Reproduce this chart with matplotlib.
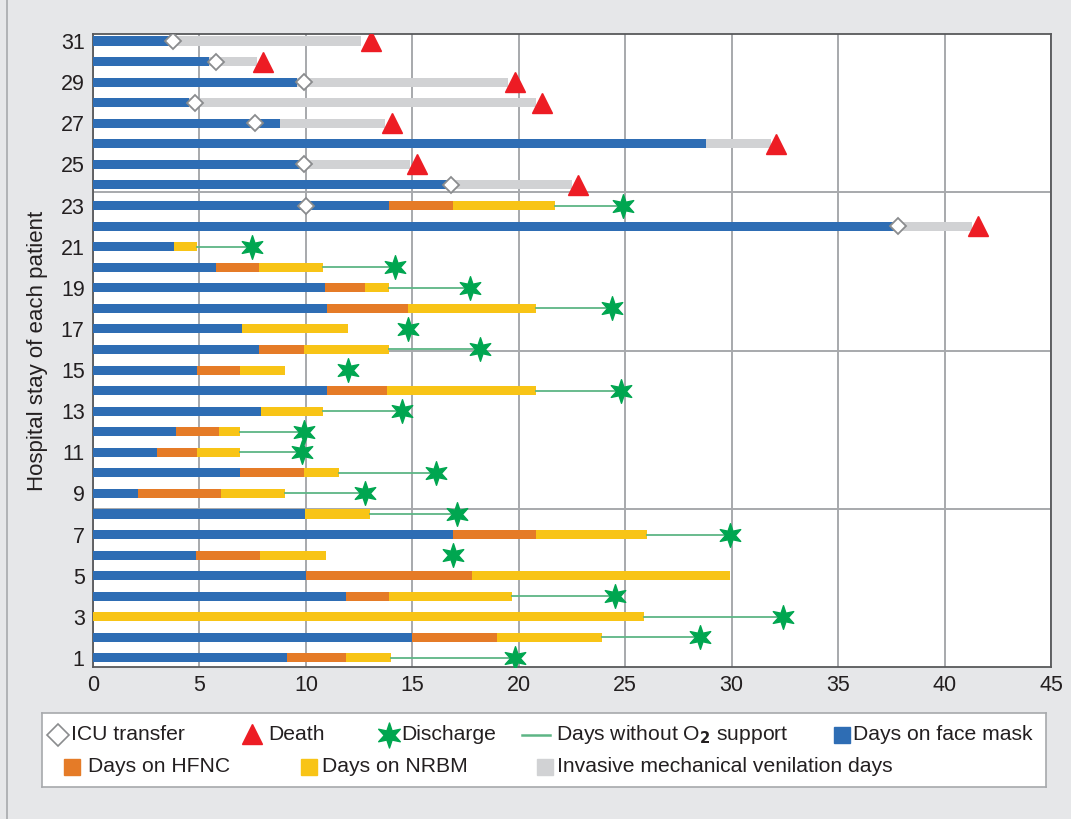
import matplotlib
matplotlib.use("Agg")
import matplotlib.pyplot as plt
from matplotlib.path import Path
import numpy as np

plt.rcParams['font.family'] = ['Liberation Sans', 'DejaVu Sans']

# patient 1..31, end day of each phase
patients = np.arange(1, 32)
mask_end = [9.1, 15.0, 0.0, 11.9, 10.0, 4.85, 16.9, 9.95, 2.1, 6.9,
            3.0, 3.9, 7.9, 11.0, 4.9, 7.8, 7.0, 11.0, 10.9, 5.8,
            3.8, 37.7, 13.9, 16.7, 9.75, 28.8, 8.8, 4.5, 9.6, 5.45, 3.55]
hfnc_end = [11.9, 19.0, 0.0, 13.9, 17.8, 7.85, 20.8, 9.95, 6.0, 9.9,
            4.9, 5.9, 7.9, 13.8, 6.9, 9.9, 7.0, 14.8, 12.8, 7.8,
            3.8, 37.7, 16.9, 16.7, 9.75, 28.8, 8.8, 4.5, 9.6, 5.45, 3.55]
nrbm_end = [14.0, 23.9, 25.9, 19.7, 29.9, 10.95, 26.0, 13.0, 9.0, 11.55,
            6.9, 6.9, 10.8, 20.8, 9.0, 13.9, 12.0, 20.8, 13.9, 10.8,
            4.9, 37.7, 21.7, 16.7, 9.75, 28.8, 8.8, 4.5, 9.6, 5.45, 3.55]
imv_end = [14.0, 23.9, 25.9, 19.7, 29.9, 10.95, 26.0, 13.0, 9.0, 11.55,
           6.9, 6.9, 10.8, 20.8, 9.0, 13.9, 12.0, 20.8, 13.9, 10.8,
           4.9, 41.3, 21.7, 22.5, 14.9, 31.85, 13.7, 20.8, 19.5, 7.7, 12.6]

# ICU transfer day (patient, day)
icu_patient = [22, 23, 24, 25, 27, 28, 29, 30, 31]
icu_day = [37.8, 10.0, 16.8, 9.9, 7.6, 4.8, 9.9, 5.8, 3.75]

# deaths
death_patient = [22, 24, 25, 26, 27, 28, 29, 30, 31]
death_day = [41.56, 22.8, 15.2, 32.1, 14.06, 21.1, 19.8, 8.0, 13.07]

# discharges, and whether a "days without O2" line leads to them
disch_patient = [1, 2, 3, 4, 6, 7, 8, 9, 10, 11, 12, 13, 14, 15, 16, 17, 18, 19, 20, 21, 23]
disch_day = [19.8, 28.5, 32.4, 24.5, 16.9, 29.9, 17.1, 12.8, 16.1, 9.8, 9.9, 14.5,
             24.8, 12.0, 18.2, 14.8, 24.4, 17.7, 14.2, 7.45, 24.9]
disch_line = [1, 1, 1, 1, 0, 1, 1, 1, 1, 1, 1, 1, 1, 0, 1, 0, 1, 1, 1, 1, 1]

c_mask = '#2e6db4'
c_hfnc = '#e57b27'
c_nrbm = '#f8c416'
c_imv = '#d1d2d4'
c_death = '#ed1c24'
c_disch = '#00a650'
c_line = '#5db585'
c_text = '#231f20'
bg = '#e6e7e9'

star = Path.unit_regular_star(6, innerCircle=0.42)

fig = plt.figure(figsize=(10.71, 8.19), dpi=100, facecolor=bg)
ax = fig.add_axes([93/1071, 1-667/819, (1051-93)/1071, (667-34)/819])
ax.set_facecolor('white')

h = 0.44
mask_end = np.array(mask_end)
hfnc_end = np.array(hfnc_end)
nrbm_end = np.array(nrbm_end)
imv_end = np.array(imv_end)

ax.barh(patients, mask_end, height=h, color=c_mask, zorder=3)
ax.barh(patients, hfnc_end - mask_end, left=mask_end, height=h, color=c_hfnc, zorder=3)
ax.barh(patients, nrbm_end - hfnc_end, left=hfnc_end, height=h, color=c_nrbm, zorder=3)
ax.barh(patients, imv_end - nrbm_end, left=nrbm_end, height=h, color=c_imv, zorder=3)

for p, d, ln in zip(disch_patient, disch_day, disch_line):
    if ln:
        ax.plot([nrbm_end[p-1], d], [p, p], color=c_line, lw=1.3, zorder=4)

ax.plot(icu_day, icu_patient, ls='none', marker='D', ms=8, mfc='white',
        mec='#8a8c8e', mew=1.3, zorder=6)
ax.plot(death_day, death_patient, ls='none', marker='^', ms=14, color=c_death, zorder=6)
ax.plot(disch_day, disch_patient, ls='none', marker=star, ms=17, color=c_disch, zorder=6)

ax.set_xlim(0, 45)
ax.set_ylim(0.56, 31.34)
ax.set_xticks(np.arange(0, 46, 5))
ax.set_yticks(np.arange(1, 32, 2))
ax.set_yticks([19, 27], minor=True)
ax.tick_params(axis='both', which='major', length=0, labelsize=15.5, colors=c_text, pad=6)
ax.tick_params(axis='y', which='minor', length=6, width=1, color='#58595b')
ax.xaxis.grid(True, color='#a7a9ac', lw=1.4, zorder=1)
for q in [0.25, 0.5, 0.75]:
    ax.axhline(0.56 + q * (31.34 - 0.56), color='#a7a9ac', lw=1.4, zorder=1)
for s in ax.spines.values():
    s.set_color('#58595b')
    s.set_linewidth(1.3)
ax.set_ylabel('Hospital stay of each patient', fontsize=16, color=c_text, labelpad=9)

# frame line on the left of the figure
fig.add_artist(plt.Line2D([7/1071, 7/1071], [0, 1], color='#a7a9ac', lw=1.2))

# legend box
lg = fig.add_axes([42/1071, 1-787/819, (1046-42)/1071, (787-713)/819])
lg.set_xlim(42, 1046)
lg.set_ylim(787, 713)
lg.set_xticks([])
lg.set_yticks([])
lg.set_facecolor('white')
for s in lg.spines.values():
    s.set_color('#a7a9ac')
    s.set_linewidth(1.2)

r1, r2 = 735, 767
fs = 15.2
lg.plot(58, r1, marker='D', ms=11, mfc='white', mec='#8a8c8e', mew=1.2, ls='none')
lg.text(71, r1, 'ICU transfer', fontsize=fs, color=c_text, va='center')
lg.plot(252, r1 - 1, marker='^', ms=14, color=c_death, ls='none')
lg.text(268, r1, 'Death', fontsize=fs, color=c_text, va='center')
lg.plot(389, r1, marker=star, ms=18, color=c_disch, ls='none')
lg.text(401, r1, 'Discharge', fontsize=fs, color=c_text, va='center')
lg.plot([522, 550], [r1, r1], color=c_line, lw=1.8)
lg.text(556, r1, 'Days without O$_\\mathbf{2}$ support', fontsize=fs, color=c_text, va='center')
lg.plot(842, r1, marker='s', ms=11, color=c_mask, ls='none')
lg.text(853, r1, 'Days on face mask', fontsize=fs, color=c_text, va='center')
lg.plot(72, r2, marker='s', ms=11, color=c_hfnc, ls='none')
lg.text(88, r2, 'Days on HFNC', fontsize=fs, color=c_text, va='center')
lg.plot(309, r2, marker='s', ms=11, color=c_nrbm, ls='none')
lg.text(322, r2, 'Days on NRBM', fontsize=fs, color=c_text, va='center')
lg.plot(545, r2, marker='s', ms=11, color=c_imv, ls='none')
lg.text(557, r2, 'Invasive mechanical venilation days', fontsize=fs, color=c_text, va='center')

fig.savefig('out.png', dpi=100, facecolor=bg)
